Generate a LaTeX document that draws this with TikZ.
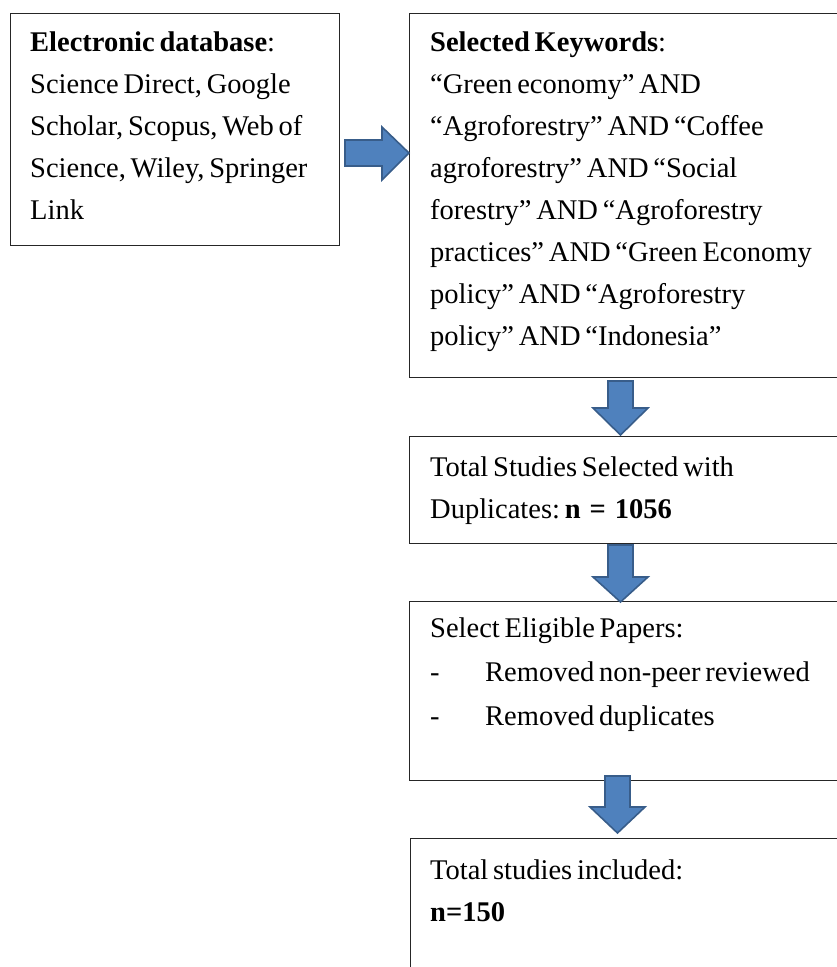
\documentclass[tikz,border=0pt]{standalone}
\usepackage{fontspec}
\setmainfont{Liberation Serif}
\definecolor{arrowfill}{HTML}{4F81BD}
\definecolor{arrowline}{HTML}{385D8A}
\tikzset{
  box/.style={draw=black!85, line width=1.3pt, rectangle, anchor=north west, inner sep=0pt},
  txt/.style={anchor=base west, inner sep=0pt, align=left, text width=430pt,
    font=\fontsize{28.5}{42}\selectfont, execute at begin node={\frenchspacing\spaceskip=4.8pt\relax}},
  blockarrow/.style={fill=arrowfill, draw=arrowline, line width=1.6pt, line join=miter}
}
\begin{document}
\begin{tikzpicture}[x=1pt,y=-1pt]
\clip (0,0) rectangle (837,967);
\useasboundingbox (0,0) rectangle (837,967);
% boxes
\node[box, minimum width=329pt, minimum height=232pt] (db) at (10,13) {};
\node[box, minimum width=450pt, minimum height=364pt] (kw) at (409,13) {};
\node[box, minimum width=450pt, minimum height=107pt] (dup) at (409,436) {};
\node[box, minimum width=450pt, minimum height=179pt] (elig) at (409,601) {};
\node[box, minimum width=450pt, minimum height=200pt] (incl) at (410,838) {};
% texts
\node[txt] (dbt) at (30,51) {\textbf{Electronic database}:\\Science Direct, Google\\Scholar, Scopus, Web of\\Science, Wiley, Springer\\Link};
\node[txt] (kwt) at (430,51) {\textbf{Selected Keywords}:\\“Green economy” AND\\“Agroforestry” AND “Coffee\\agroforestry” AND “Social\\forestry” AND “Agroforestry\\practices” AND “Green Economy\\policy” AND “Agroforestry\\policy” AND “Indonesia”};
\node[txt] (dupt) at (430,476) {Total Studies Selected with\\Duplicates: \textbf{n\hspace{9pt}=\hspace{9pt}1056}};
\node[txt, font=\fontsize{28.5}{44}\selectfont] (eligt) at (430,637) {Select Eligible Papers:\\\makebox[55pt][l]{-}Removed non-peer reviewed\\\makebox[55pt][l]{-}Removed duplicates};
\node[txt] (inclt) at (430,879) {Total studies included:\\\textbf{n=150}};
% arrows
\draw[blockarrow] (345,140) -- (382,140) -- (382,127) -- (409,153) -- (382,180) -- (382,166) -- (345,166) -- cycle;
\draw[blockarrow] (608,381) -- (633,381) -- (633,408) -- (648,408) -- (620.5,435) -- (593,408) -- (608,408) -- cycle;
\draw[blockarrow] (608,545) -- (633,545) -- (633,577) -- (648,577) -- (620.5,602) -- (593,577) -- (608,577) -- cycle;
\draw[blockarrow] (605,776) -- (630,776) -- (630,807) -- (645,807) -- (617.5,833) -- (590,807) -- (605,807) -- cycle;
\end{tikzpicture}
\end{document}
